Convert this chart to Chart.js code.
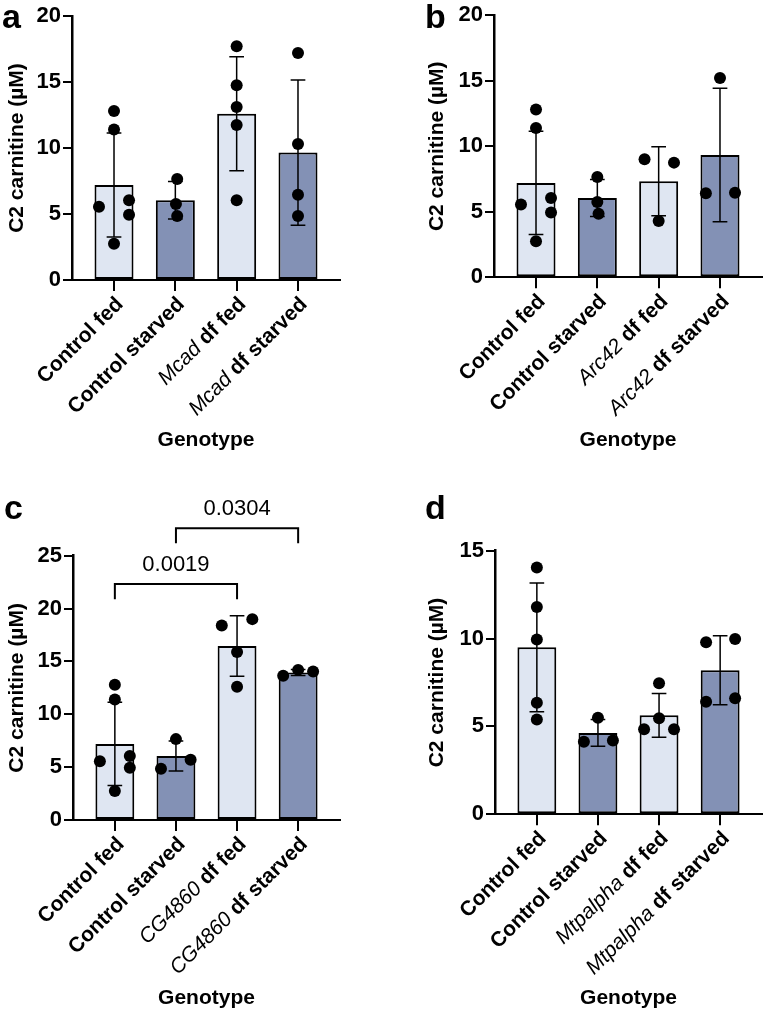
<!DOCTYPE html>
<html>
<head>
<meta charset="utf-8">
<script src="https://cdn.jsdelivr.net/npm/chart.js@4.4.0/dist/chart.umd.min.js"></script>
<style>
  html, body { margin: 0; padding: 0; background: #fff; }
  body { width: 768px; height: 1016px; position: relative; overflow: hidden; }
  canvas { position: absolute; }
</style>
</head>
<body>
<canvas id="chartA" width="384" height="470" style="left:0;top:0"></canvas>
<canvas id="chartB" width="384" height="470" style="left:384px;top:0"></canvas>
<canvas id="chartC" width="384" height="546" style="left:0;top:470px"></canvas>
<canvas id="chartD" width="384" height="546" style="left:384px;top:470px"></canvas>
<script>
// Data
const groupsA = ['Control fed', 'Control starved', 'Mcad df fed', 'Mcad df starved'];
const groupsB = ['Control fed', 'Control starved', 'Arc42 df fed', 'Arc42 df starved'];
const groupsC = ['Control fed', 'Control starved', 'CG4860 df fed', 'CG4860 df starved'];
const groupsD = ['Control fed', 'Control starved', 'Mtpalpha df fed', 'Mtpalpha df starved'];
const genes = ['Mcad', 'Arc42', 'CG4860', 'Mtpalpha'];

const meansA = [7.2, 6.05, 12.6, 9.65];
const sdA = [3.94, 1.42, 4.32, 5.5];
const meansB = [7.2, 6.05, 7.33, 9.33];
const sdB = [3.94, 1.42, 2.64, 5.09];
const meansC = [7.2, 6.05, 16.45, 13.95];
const sdC = [3.94, 1.42, 2.86, 0.28];
const meansD = [9.5, 4.63, 5.63, 8.2];
const sdD = [3.66, 0.76, 1.24, 1.96];

// individual points, one list per bar
const controlFed = [12.8, 11.4, 5.55, 6.05, 4.95, 2.75];
const controlStarved = [7.65, 5.75, 4.85];
const pointsA = [controlFed, controlStarved, [17.7, 14.75, 13.1, 11.75, 6.05], [17.2, 10.3, 6.45, 4.85]];
const pointsB = [controlFed, controlStarved, [9.0, 8.75, 4.3], [15.2, 6.42, 6.45]];
const pointsC = [controlFed, [7.65, 4.85, 5.7], [18.4, 19.0, 15.9, 12.6], [13.65, 14.2, 14.05]];
const pointsD = [[14.05, 11.8, 9.95, 6.35, 5.4], [5.5, 4.13, 4.2], [7.46, 5.46, 4.84, 4.84], [9.79, 9.98, 6.41, 6.6]];

// horizontal scatter of the points (category units)
const spreadFed = [0, 0, -0.245, 0.245, 0.245, 0];
const spreadA = [spreadFed, [0.03, 0.01, 0.03], [0, 0, 0, 0, 0], [0, 0, 0, 0]];
const spreadB = [spreadFed, [0, 0, 0.02], [-0.23, 0.25, 0], [0, -0.23, 0.245]];
const spreadC = [spreadFed, [0, -0.245, 0.24], [-0.25, 0.25, 0, 0], [-0.245, 0, 0.245]];
const spreadD = [[0, 0, 0, 0, 0], [0, -0.23, 0.245], [0, 0, -0.245, 0.245], [-0.23, 0.245, -0.23, 0.245]];

// comparisons in panel c
const pairsC = [[0, 2], [1, 3]];
const bracketLevelC = [22.33, 27.6];
const bracketLegC = [20.88, 26.18];
const pValuesC = ['0.0019', '0.0304'];

const LIGHT = '#dfe6f2';
const DARK = '#8391b5';
const FONT = "'Liberation Sans', Arial, Helvetica, sans-serif";

// Error bars drawn right after the bars, before the dots
const errorBars = {
  id: 'errorBars',
  afterDatasetDraw(chart, args, opts) {
    if (args.index !== 0) return;
    const { ctx, scales: { x, y } } = chart;
    ctx.save();
    ctx.strokeStyle = '#000';
    ctx.lineWidth = 1.5;
    opts.means.forEach((m, i) => {
      const cx = x.getPixelForValue(i);
      const half = x.getPixelForValue(i + 0.12) - cx;
      const top = y.getPixelForValue(m + opts.sd[i]);
      const bot = y.getPixelForValue(m - opts.sd[i]);
      ctx.beginPath();
      ctx.moveTo(cx, top); ctx.lineTo(cx, bot);
      ctx.moveTo(cx - half, top); ctx.lineTo(cx + half, top);
      ctx.moveTo(cx - half, bot); ctx.lineTo(cx + half, bot);
      ctx.stroke();
    });
    ctx.restore();
  }
};

// Panel letter, rotated tick labels with italic gene names, brackets
const decorations = {
  id: 'decorations',
  afterDraw(chart, args, opts) {
    const { ctx, scales: { x, y }, chartArea } = chart;
    ctx.save();

    ctx.fillStyle = '#000';
    ctx.textBaseline = 'alphabetic';
    ctx.textAlign = 'left';
    ctx.font = 'bold 34px ' + FONT;
    ctx.fillText(opts.letter, opts.letterX, opts.letterY);

    const bold = 'bold 21px ' + FONT;
    const ital = 'italic 21px ' + FONT;
    opts.labels.forEach((lab, i) => {
      let parts;
      if (lab.startsWith(opts.gene)) parts = [[opts.gene, ital], [lab.slice(opts.gene.length), bold]];
      else parts = [[lab, bold]];
      let total = 0;
      parts.forEach(p => { ctx.font = p[1]; total += ctx.measureText(p[0]).width; });
      ctx.save();
      ctx.translate(x.getPixelForValue(i) + 6, chartArea.bottom + 21);
      ctx.rotate(-Math.PI / 4);
      ctx.textBaseline = 'middle';
      let cur = -total;
      parts.forEach(p => {
        ctx.font = p[1];
        ctx.fillText(p[0], cur, 0);
        cur += ctx.measureText(p[0]).width;
      });
      ctx.restore();
    });

    if (opts.pairs) {
      ctx.lineWidth = 2;
      ctx.strokeStyle = '#000';
      ctx.font = '22px ' + FONT;
      ctx.textAlign = 'center';
      ctx.textBaseline = 'middle';
      opts.pairs.forEach((pr, k) => {
        const x0 = x.getPixelForValue(pr[0]);
        const x1 = x.getPixelForValue(pr[1]);
        const yl = y.getPixelForValue(opts.levels[k]);
        const yb = y.getPixelForValue(opts.legs[k]);
        ctx.beginPath();
        ctx.moveTo(x0, yb); ctx.lineTo(x0, yl); ctx.lineTo(x1, yl); ctx.lineTo(x1, yb);
        ctx.stroke();
        ctx.fillText(opts.pvals[k], (x0 + x1) / 2, yl - 19);
      });
    }
    ctx.restore();
  }
};

function makePanel(id, p) {
  const canvas = document.getElementById(id);
  const W = canvas.width, H = canvas.height;
  const dots = [];
  p.points.forEach((list, i) => {
    list.forEach((v, j) => dots.push({ x: i + p.spread[i][j], y: v }));
  });

  return new Chart(canvas.getContext('2d'), {
    type: 'bar',
    data: {
      datasets: [
        {
          type: 'bar',
          data: p.means.map((m, i) => ({ x: i, y: m })),
          backgroundColor: p.means.map((_, i) => (i % 2 === 0 ? LIGHT : DARK)),
          borderColor: '#000',
          borderWidth: 2,
          borderSkipped: false,
          categoryPercentage: 1,
          barPercentage: 0.636,
          order: 2
        },
        {
          type: 'scatter',
          data: dots,
          backgroundColor: '#000',
          borderColor: '#000',
          pointRadius: 6,
          borderWidth: 0,
          order: 1
        }
      ]
    },
    options: {
      responsive: false,
      animation: false,
      layout: { padding: { left: 0, top: p.top, right: W - p.right, bottom: 0 } },
      plugins: {
        legend: { display: false },
        tooltip: { enabled: false },
        errorBars: { means: p.means, sd: p.sd },
        decorations: {
          letter: p.letter, letterX: p.letterX, letterY: p.letterY,
          labels: p.labels, gene: p.gene,
          pairs: p.pairs, levels: p.levels, legs: p.legs, pvals: p.pvals
        }
      },
      scales: {
        x: {
          type: 'linear',
          offset: false,
          min: -0.685,
          max: 3.685,
          afterBuildTicks: s => { s.ticks = p.labels.map((_, i) => ({ value: i })); },
          afterFit: s => { s.height = H - p.bottom; },
          ticks: { callback: () => '', padding: 0 },
          grid: { offset: false, drawOnChartArea: false, drawTicks: true, tickLength: 11, lineWidth: 2, color: '#000' },
          border: { display: true, width: 2, color: '#000' },
          title: {
            display: true, text: 'Genotype', color: '#000',
            font: { family: FONT, size: 21, weight: 'bold' },
            padding: { top: 0, bottom: p.xTitlePad }
          }
        },
        y: {
          min: 0,
          max: p.yMax,
          afterFit: s => { s.width = p.left; },
          ticks: { stepSize: 5, color: '#000', padding: 2, font: { family: FONT, size: 22, weight: 'bold' } },
          grid: { drawOnChartArea: false, drawTicks: true, tickLength: 9, lineWidth: 2, color: '#000' },
          border: { display: true, width: 2.5, color: '#000' },
          title: {
            display: true, text: 'C2 carnitine (µM)', color: '#000',
            font: { family: FONT, size: 21, weight: 'bold' },
            padding: { top: p.yTitlePad, bottom: 0 }
          }
        }
      }
    },
    plugins: [errorBars, decorations]
  });
}

makePanel('chartA', {
  labels: groupsA, gene: genes[0], means: meansA, sd: sdA, points: pointsA, spread: spreadA,
  yMax: 20, left: 72, right: 340, top: 16, bottom: 280, xTitlePad: 17.4, yTitlePad: 4.4,
  letter: 'a', letterX: 2, letterY: 28
});
makePanel('chartB', {
  labels: groupsB, gene: genes[1], means: meansB, sd: sdB, points: pointsB, spread: spreadB,
  yMax: 20, left: 110, right: 378, top: 13.3, bottom: 277.3, xTitlePad: 17.4, yTitlePad: 40.4,
  letter: 'b', letterX: 41, letterY: 28
});
makePanel('chartC', {
  labels: groupsC, gene: genes[2], means: meansC, sd: sdC, points: pointsC, spread: spreadC,
  yMax: 25, left: 73, right: 340, top: 85.7, bottom: 350, xTitlePad: 5.4, yTitlePad: 4.4,
  letter: 'c', letterX: 4, letterY: 49,
  pairs: pairsC, levels: bracketLevelC, legs: bracketLegC, pvals: pValuesC
});
makePanel('chartD', {
  labels: groupsD, gene: genes[3], means: meansD, sd: sdD, points: pointsD, spread: spreadD,
  yMax: 15, left: 111, right: 378, top: 80.7, bottom: 344.3, xTitlePad: 5.4, yTitlePad: 40.4,
  letter: 'd', letterX: 41, letterY: 49
});
</script>
</body>
</html>
